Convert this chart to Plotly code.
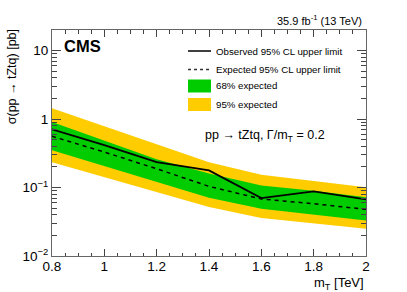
import plotly.graph_objects as go

mass = [0.8, 1.0, 1.2, 1.4, 1.6, 1.8, 2.0]
observed = [0.71, 0.415, 0.235, 0.178, 0.070, 0.088, 0.067]
expected = [0.56, 0.33, 0.188, 0.104, 0.068, 0.058, 0.048]
band68_up = [0.91, 0.49, 0.26, 0.16, 0.107, 0.090, 0.072]
band68_dn = [0.35, 0.207, 0.123, 0.071, 0.049, 0.040, 0.033]
band95_up = [1.44, 0.79, 0.43, 0.235, 0.154, 0.124, 0.101]
band95_dn = [0.235, 0.143, 0.087, 0.052, 0.036, 0.030, 0.025]

GREEN = "rgb(0,204,0)"
YELLOW = "rgb(255,204,0)"
FONT = "Liberation Sans, Arial, Helvetica, sans-serif"

fig = go.Figure()
# 95% band
fig.add_trace(go.Scatter(x=mass, y=band95_dn, mode="lines", line=dict(width=0, color=YELLOW),
                         showlegend=False, hoverinfo="skip"))
fig.add_trace(go.Scatter(x=mass, y=band95_up, mode="lines", line=dict(width=0, color=YELLOW),
                         fill="tonexty", fillcolor=YELLOW, name="95% expected", showlegend=False))
# 68% band
fig.add_trace(go.Scatter(x=mass, y=band68_dn, mode="lines", line=dict(width=0, color=GREEN),
                         showlegend=False, hoverinfo="skip"))
fig.add_trace(go.Scatter(x=mass, y=band68_up, mode="lines", line=dict(width=0, color=GREEN),
                         fill="tonexty", fillcolor=GREEN, name="68% expected", showlegend=False))
fig.add_trace(go.Scatter(x=mass, y=expected, mode="lines", line=dict(color="black", width=1.5, dash="4px,4px"),
                         name="Expected 95% CL upper limit", showlegend=False))
fig.add_trace(go.Scatter(x=mass, y=observed, mode="lines", line=dict(color="black", width=1.8),
                         name="Observed 95% CL upper limit", showlegend=False))

# manual legend (paper coordinates)
L = 52; T = 30; W = 314; H = 226
def px(x): return (x - L) / W
def py(y): return 1 - (y - T) / H

legend_rows = [
    ("line", "Observed 95% CL upper limit", 51),
    ("dash", "Expected 95% CL upper limit", 69.5),
    ("green", "68% expected", 86),
    ("yellow", "95% expected", 104.5),
]
shapes = []
annos = []
for kind, text, yc in legend_rows:
    if kind in ("line", "dash"):
        shapes.append(dict(type="line", xref="paper", yref="paper", x0=px(188), x1=px(211), y0=py(yc), y1=py(yc),
                           line=dict(color="black" if kind == "line" else "#333", width=1.5,
                                     dash="solid" if kind == "line" else "3px,3px")))
    else:
        shapes.append(dict(type="rect", xref="paper", yref="paper", x0=px(188), x1=px(211), y0=py(yc + 6.5), y1=py(yc - 6.5),
                           fillcolor=GREEN if kind == "green" else YELLOW, line=dict(width=0)))
    annos.append(dict(text=text, xref="paper", yref="paper", x=px(214), y=py(yc), xanchor="left", yanchor="middle",
                      showarrow=False, font=dict(size=9.7, color="black", family=FONT)))

annos += [
    dict(text="<b>CMS</b>", xref="paper", yref="paper", x=px(62), y=py(46), xanchor="left", yanchor="middle",
         showarrow=False, font=dict(size=16.5, color="black", family=FONT)),
    dict(text="35.9 fb<sup>-1</sup> (13 TeV)", xref="paper", yref="paper", x=px(364), y=py(20), xanchor="right",
         yanchor="middle", showarrow=False, font=dict(size=11, color="black", family=FONT)),
    dict(text="pp → tZtq, Γ/m<sub>T</sub> = 0.2", xref="paper", yref="paper", x=px(203), y=py(136),
         xanchor="left", yanchor="middle", showarrow=False, font=dict(size=12.5, color="black", family=FONT)),
    dict(text="σ(pp → tZtq) [pb]", xref="paper", yref="paper", x=px(12), y=1.01, xanchor="center",
         yanchor="top", textangle=-90, showarrow=False, font=dict(size=12.5, color="black", family=FONT)),
    dict(text="m<sub>T</sub> [TeV]", xref="paper", yref="paper", x=1.0, y=py(283), xanchor="right",
         yanchor="middle", showarrow=False, font=dict(size=13, color="black", family=FONT)),
]

fig.update_layout(
    width=407, height=292,
    margin=dict(l=L, r=407 - L - W, t=T, b=292 - T - H),
    paper_bgcolor="white", plot_bgcolor="white",
    showlegend=False,
    shapes=shapes, annotations=annos,
    font=dict(family=FONT, color="black", size=13),
)
fig.update_xaxes(range=[0.8, 2.0], tickvals=[0.8, 1.0, 1.2, 1.4, 1.6, 1.8, 2.0],
                 ticktext=["0.8", "1", "1.2", "1.4", "1.6", "1.8", "2"],
                 ticks="inside", ticklen=7, tickcolor="#444", showline=True, linecolor="#666", linewidth=1,
                 mirror="ticks", showgrid=False, zeroline=False, ticklabelstandoff=-2,
                 minor=dict(ticks="inside", ticklen=3.5, dtick=0.05, tickcolor="#444", showgrid=False),
                 tickfont=dict(size=13.5, family=FONT))
fig.update_yaxes(type="log", range=[-2, 1.301], tickvals=[0.01, 0.1, 1, 10],
                 ticktext=["10<sup>−2</sup>", "10<sup>−1</sup>", "1", "10"],
                 ticks="inside", ticklen=9, tickcolor="#444", showline=True, linecolor="#666", linewidth=1,
                 mirror="ticks", showgrid=False, zeroline=False,
                 minor=dict(ticks="inside", ticklen=5, dtick="D1", tickcolor="#444", showgrid=False),
                 tickfont=dict(size=13.5, family=FONT))

fig.write_html("out.html", config={"displayModeBar": False},
               post_script="document.body.style.margin='0';document.body.style.padding='0';")
